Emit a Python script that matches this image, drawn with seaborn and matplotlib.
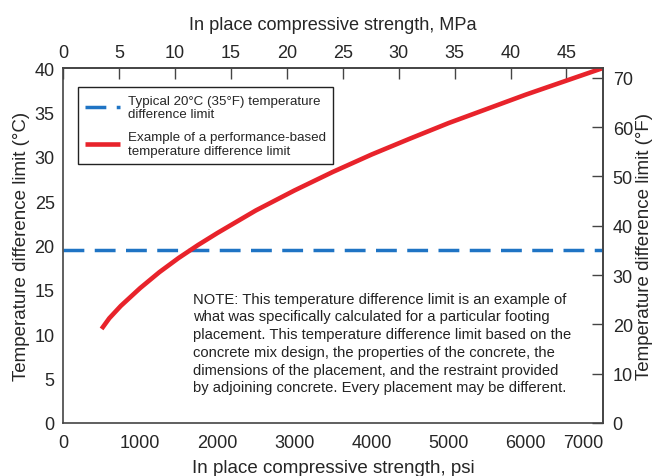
import matplotlib
matplotlib.use("Agg")
import matplotlib.pyplot as plt
import seaborn as sns
import pandas as pd

# Data
strength_psi = [500, 600, 750, 1000, 1250, 1500, 1750, 2000, 2500, 3000, 3500, 4000, 4500, 5000, 5500, 6000, 6500, 7000]
perf_limit_c = [10.6, 11.8, 13.2, 15.2, 17.0, 18.6, 20.05, 21.4, 23.95, 26.2, 28.3, 30.25, 32.05, 33.8, 35.4, 37.0, 38.5, 40.0]
typical_x_psi = [0, 7000]
typical_limit_c = [19.44, 19.44]
psi_ticks = [0, 1000, 2000, 3000, 4000, 5000, 6000, 7000]
mpa_ticks = [0, 5, 10, 15, 20, 25, 30, 35, 40, 45]
c_ticks = [0, 5, 10, 15, 20, 25, 30, 35, 40]
f_ticks = [0, 10, 20, 30, 40, 50, 60, 70]
legend_labels = ["Typical 20°C (35°F) temperature\ndifference limit",
                 "Example of a performance-based\ntemperature difference limit"]
note_text = ("NOTE: This temperature difference limit is an example of\n"
             "what was specifically calculated for a particular footing\n"
             "placement. This temperature difference limit based on the\n"
             "concrete mix design, the properties of the concrete, the\n"
             "dimensions of the placement, and the restraint provided\n"
             "by adjoining concrete. Every placement may be different.")

sns.set_theme(style="white")
plt.rcParams['font.family'] = ['Liberation Sans', 'DejaVu Sans']

fig = plt.figure(figsize=(6.54, 4.77), dpi=100)
ax = fig.add_axes([63/654, 53/477, 540/654, 355/477])

df_typ = pd.DataFrame({"x": typical_x_psi, "y": typical_limit_c})
df_perf = pd.DataFrame({"x": strength_psi, "y": perf_limit_c})
sns.lineplot(data=df_typ, x="x", y="y", ax=ax, color="#1f74c4", lw=2.5,
             linestyle=(0, (6, 3)), label=legend_labels[0])
sns.lineplot(data=df_perf, x="x", y="y", ax=ax, color="#e8232b", lw=3.3,
             label=legend_labels[1], solid_joinstyle="round", solid_capstyle="butt")

ax.set_xlim(0, 7000)
ax.set_ylim(0, 40)
ax.set_xticks(psi_ticks)
ax.set_yticks(c_ticks)
spine_col = "#444444"
for s in ax.spines.values():
    s.set_color(spine_col)
    s.set_linewidth(1.2)
tick_fs = 13
lab_fs = 13.5
ax.tick_params(axis="x", direction="in", length=8, width=1, color=spine_col,
               labelsize=tick_fs, pad=8)
ax.tick_params(axis="y", direction="in", length=8, width=1, color=spine_col,
               labelsize=tick_fs, pad=6)
ax.set_xlabel("In place compressive strength, psi", fontsize=lab_fs, labelpad=6)
ax.set_ylabel("Temperature difference limit (°C)", fontsize=lab_fs, labelpad=3)
xl = ax.get_xticklabels()
xl[-1].set_horizontalalignment("right")

# Top axis (MPa)
top = ax.secondary_xaxis("top", functions=(lambda p: p * 0.00689476, lambda m: m / 0.00689476))
top.set_xticks(mpa_ticks)
top.tick_params(direction="in", length=8, width=1, color=spine_col, labelsize=tick_fs, pad=5)
top.set_xlabel("In place compressive strength, MPa", fontsize=13.1, labelpad=11)
top.spines["top"].set_color(spine_col)

# Right axis (°F)
right = ax.secondary_yaxis("right", functions=(lambda c: c * 1.8, lambda f: f / 1.8))
right.set_yticks(f_ticks)
right.tick_params(direction="in", length=8, width=1, color=spine_col, labelsize=tick_fs, pad=7)
right.set_ylabel("Temperature difference limit (°F)", fontsize=lab_fs, labelpad=2)
right.spines["right"].set_color(spine_col)

leg = ax.legend(loc="upper left", bbox_to_anchor=(0.028, 0.946), fontsize=9.6,
                frameon=True, fancybox=False, edgecolor="#222222", framealpha=1,
                handlelength=2.6, handletextpad=0.6, borderpad=0.55, labelspacing=0.8,
                borderaxespad=0)
leg.get_frame().set_linewidth(1.0)

ax.text(1690, 14.8, note_text, fontsize=10.6, va="top", ha="left",
        linespacing=1.34, color="#222222")

fig.savefig("out.png", dpi=100)
